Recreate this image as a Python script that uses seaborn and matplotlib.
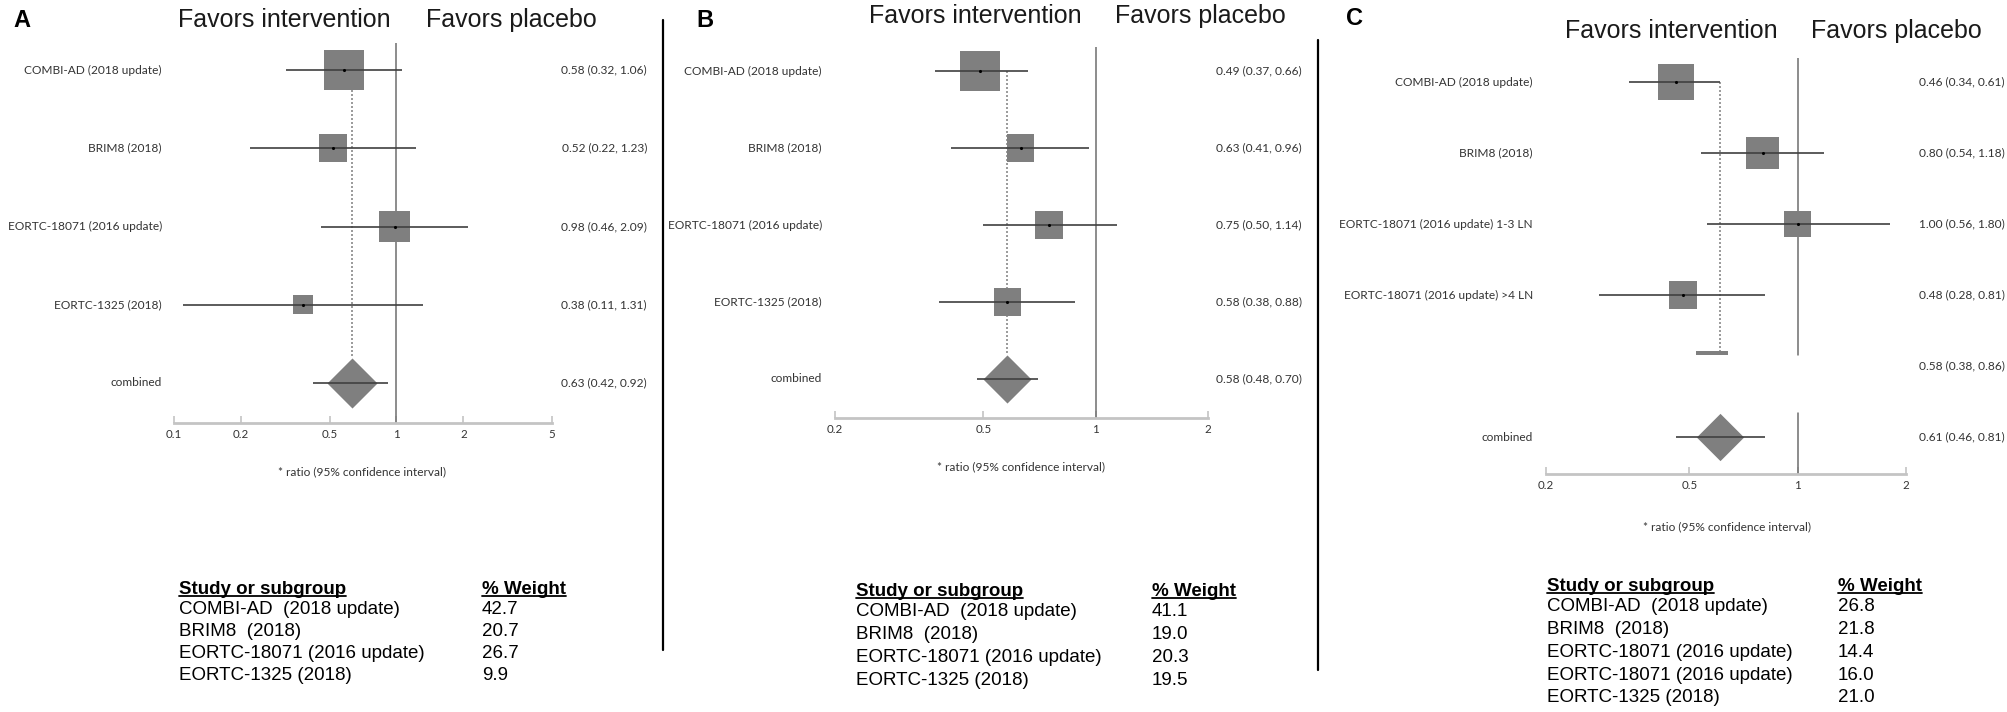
import numpy as np
import pandas as pd
import matplotlib
matplotlib.use("Agg")
import matplotlib.pyplot as plt
import seaborn as sns
from matplotlib.lines import Line2D
from matplotlib.transforms import blended_transform_factory, IdentityTransform
from matplotlib.ticker import FixedLocator, FixedFormatter, NullLocator

# ---- data ----
studies_ab = ["COMBI-AD (2018 update)", "BRIM8 (2018)",
              "EORTC-18071 (2016 update)", "EORTC-1325 (2018)"]
studies_c = ["COMBI-AD (2018 update)", "BRIM8 (2018)",
             "EORTC-18071 (2016 update) 1-3 LN", "EORTC-18071 (2016 update) >4 LN"]

hr_a = [0.58, 0.52, 0.98, 0.38]
lo_a = [0.32, 0.22, 0.46, 0.11]
hi_a = [1.06, 1.23, 2.09, 1.31]
pooled_a = [0.63, 0.42, 0.92]
weights_a = [42.7, 20.7, 26.7, 9.9]

hr_b = [0.49, 0.63, 0.75, 0.58]
lo_b = [0.37, 0.41, 0.50, 0.38]
hi_b = [0.66, 0.96, 1.14, 0.88]
pooled_b = [0.58, 0.48, 0.70]
weights_b = [41.1, 19.0, 20.3, 19.5]

hr_c = [0.46, 0.80, 1.00, 0.48]
lo_c = [0.34, 0.54, 0.56, 0.28]
hi_c = [0.61, 1.18, 1.80, 0.81]
subtotal_c = [0.58, 0.38, 0.86]
pooled_c = [0.61, 0.46, 0.81]
weights_c = [26.8, 21.8, 14.4, 16.0, 21.0]

ticks_a = [0.1, 0.2, 0.5, 1, 2, 5]
ticks_bc = [0.2, 0.5, 1, 2]
tick_labels_a = ["0.1", "0.2", "0.5", "1", "2", "5"]
tick_labels_bc = ["0.2", "0.5", "1", "2"]

table_ab = ["COMBI-AD  (2018 update)", "BRIM8  (2018)",
            "EORTC-18071 (2016 update)", "EORTC-1325 (2018)"]
table_c = ["COMBI-AD  (2018 update)", "BRIM8  (2018)",
           "EORTC-18071 (2016 update)", "EORTC-18071 (2016 update)",
           "EORTC-1325 (2018)"]

# ---- style ----
sns.set_theme(style="white")
plt.rcParams["font.family"] = ["Liberation Sans", "DejaVu Sans"]
SMALL = ["Lato", "DejaVu Sans"]
BOX = "#7f7f7f"
LINE = "#404040"
AXIS = "#c4c4c4"
TXT = "#333333"

W, H = 2008, 712
fig = plt.figure(figsize=(W / 100, H / 100), dpi=100)
fig.patch.set_facecolor("white")


def fx(px):
    return px / W


def fy(py):
    return 1 - py / H


def fig_text(x, y, s, **kw):
    return fig.text(fx(x), fy(y), s, **kw)


underlined = []


def forest(labels, hr, lo, hi, weights, k, pooled, ticks, tick_labels, g, subtotal=None):
    ax = fig.add_axes([fx(g["left"]), fy(g["bottom"]),
                       (g["right"] - g["left"]) / W, (g["bottom"] - g["top"]) / H])
    n = len(labels)
    rows = np.arange(n)
    prow = n + (1 if subtotal is not None else 0)
    step = g["step"]
    ax.set_xscale("log")
    ax.set_xlim(ticks[0], ticks[-1])
    ax.set_ylim((g["bottom"] - g["row0"]) / step, -(g["row0"] - g["top"]) / step)
    ax.set_facecolor("none")

    # reference line at 1
    for y0, y1 in g["vsegs"]:
        ax.axvline(1, ymin=y0, ymax=y1, color="#6e6e6e", lw=1.1, zorder=1)
    # dotted line at pooled estimate
    ax.vlines(pooled[0], 0, g["dot_end"], color="#8a8a8a", lw=1.2,
              linestyles=(0, (1.2, 1.2)), zorder=1)

    df = pd.DataFrame({"hr": hr, "row": rows, "w": weights[:n]})
    ax.hlines(rows, lo, hi, color=LINE, lw=1.2, zorder=3)
    sns.scatterplot(data=df, x="hr", y="row", s=k * df["w"].to_numpy(), marker="s",
                    color=BOX, linewidth=0, ax=ax, zorder=2, legend=False)
    sns.scatterplot(data=df, x="hr", y="row", s=5, marker="o", color="black",
                    linewidth=0, ax=ax, zorder=4, legend=False)

    # pooled diamond
    pdf = pd.DataFrame({"hr": [pooled[0]], "row": [prow]})
    sns.scatterplot(data=pdf, x="hr", y="row", s=g["dia"], marker="D", color=BOX,
                    linewidth=0, ax=ax, zorder=2, legend=False)
    ax.hlines(prow, pooled[1], pooled[2], color=LINE, lw=1.2, zorder=3)

    tr = blended_transform_factory(fig.transFigure, ax.transData)
    for i, lab in enumerate(labels):
        ax.text(fx(g["label_x"]), i, lab, transform=tr, ha="right", va="center",
                fontsize=8.6, family=SMALL, color=TXT)
        ax.text(fx(g["ci_x"]), i, f"{hr[i]:.2f} ({lo[i]:.2f}, {hi[i]:.2f})", transform=tr,
                ha="right", va="center", fontsize=8.6, family=SMALL, color=TXT)
    if subtotal is not None:
        bar = [(-1, -0.13), (1, -0.13), (1, 0.13), (-1, 0.13)]
        sdf = pd.DataFrame({"hr": [subtotal[0]], "row": [n - 0.18]})
        sns.scatterplot(data=sdf, x="hr", y="row", s=500, marker=bar, color=BOX,
                        linewidth=0, ax=ax, zorder=2, legend=False)
        ax.text(fx(g["ci_x"]), n, f"{subtotal[0]:.2f} ({subtotal[1]:.2f}, {subtotal[2]:.2f})",
                transform=tr, ha="right", va="center", fontsize=8.6, family=SMALL, color=TXT)
    ax.text(fx(g["label_x"]), prow, "combined", transform=tr, ha="right", va="center",
            fontsize=8.6, family=SMALL, color=TXT)
    ax.text(fx(g["ci_x"]), prow, f"{pooled[0]:.2f} ({pooled[1]:.2f}, {pooled[2]:.2f})",
            transform=tr, ha="right", va="center", fontsize=8.6, family=SMALL, color=TXT)

    # axis
    for side in ["top", "left", "right"]:
        ax.spines[side].set_visible(False)
    ax.spines["bottom"].set_color(AXIS)
    ax.spines["bottom"].set_linewidth(2)
    ax.xaxis.set_major_locator(FixedLocator(ticks))
    ax.xaxis.set_major_formatter(FixedFormatter(tick_labels))
    ax.xaxis.set_minor_locator(NullLocator())
    ax.tick_params(axis="x", direction="in", length=5, width=1.2, color=AXIS,
                   labelsize=8.3, labelcolor=TXT, pad=4, bottom=True)
    for t in ax.get_xticklabels():
        t.set_family(SMALL)
    ax.set_yticks([])
    ax.set_xlabel("")
    ax.set_ylabel("")

    # headers and notes
    fig_text(g["letter"][0], g["letter"][1], g["name"], fontsize=17, weight="bold",
             ha="left", va="baseline", color="black")
    fig_text(g["titles"][0], g["titles"][2], "Favors intervention", fontsize=18,
             ha="center", va="baseline", color="#1a1a1a")
    fig_text(g["titles"][1], g["titles"][2], "Favors placebo", fontsize=18,
             ha="center", va="baseline", color="#1a1a1a")
    fig_text(g["note"][0], g["note"][1], "* ratio (95% confidence interval)", fontsize=8.6,
             family=SMALL, ha="center", va="center", color=TXT)
    return ax


def table(names, weights, g):
    x1, x2, y0, dy = g["table"]
    h1 = fig_text(x1, y0 + 7, "Study or subgroup", fontsize=13.5, weight="bold",
                  ha="left", va="baseline", color="black")
    h2 = fig_text(x2, y0 + 7, "% Weight", fontsize=13.5, weight="bold",
                  ha="left", va="baseline", color="black")
    underlined.extend([(h1, y0 + 9), (h2, y0 + 9)])
    for i, (nm, w) in enumerate(zip(names, weights)):
        fig_text(x1, y0 + dy * (i + 1), nm, fontsize=13.5, ha="left", va="center", color="black")
        fig_text(x2, y0 + dy * (i + 1), f"{w:.1f}", fontsize=13.5, ha="left", va="center",
                 color="black")


geo_a = dict(name="A", left=174, right=552, top=43, bottom=423, row0=70, step=78.25,
             label_x=162, ci_x=647, titles=(284, 511, 27), letter=(13, 27),
             note=(362, 472), table=(179, 482, 587, 22), vsegs=[(0, 1)], dot_end=3.68, dia=650)
geo_b = dict(name="B", left=835, right=1208, top=47, bottom=418, row0=71, step=77,
             label_x=822, ci_x=1302, titles=(975, 1200, 23), letter=(696, 27),
             note=(1021, 467), table=(856, 1152, 589, 22.8), vsegs=[(0, 1)], dot_end=3.69, dia=600)
geo_c = dict(name="C", left=1546, right=1906, top=58, bottom=474, row0=82, step=71,
             label_x=1533, ci_x=2005, titles=(1671, 1896, 38), letter=(1346, 25),
             note=(1727, 527), table=(1547, 1838, 584, 22.8),
             vsegs=[(0.286, 1), (0, 0.147)], dot_end=3.8, dia=580)

forest(studies_ab, hr_a, lo_a, hi_a, weights_a, 19.3, pooled_a, ticks_a, tick_labels_a, geo_a)
forest(studies_ab, hr_b, lo_b, hi_b, weights_b, 19.9, pooled_b, ticks_bc, tick_labels_bc, geo_b)
forest(studies_c, hr_c, lo_c, hi_c, weights_c, 25.4, pooled_c, ticks_bc, tick_labels_bc, geo_c,
       subtotal=subtotal_c)

table(table_ab, weights_a, geo_a)
table(table_ab, weights_b, geo_b)
table(table_c, weights_c, geo_c)

# panel dividers
for x, y0, y1 in [(663, 20, 650), (1318, 40, 670)]:
    fig.add_artist(Line2D([fx(x), fx(x)], [fy(y0), fy(y1)], transform=fig.transFigure,
                          color="black", lw=1.6))

# underline table headers
fig.canvas.draw()
renderer = fig.canvas.get_renderer()
for t, yb in underlined:
    bb = t.get_window_extent(renderer)
    fig.add_artist(Line2D([fx(bb.x0), fx(bb.x1)], [fy(yb), fy(yb)], transform=fig.transFigure,
                          color="black", lw=1.3))

fig.savefig("out.png", dpi=100, facecolor="white")
